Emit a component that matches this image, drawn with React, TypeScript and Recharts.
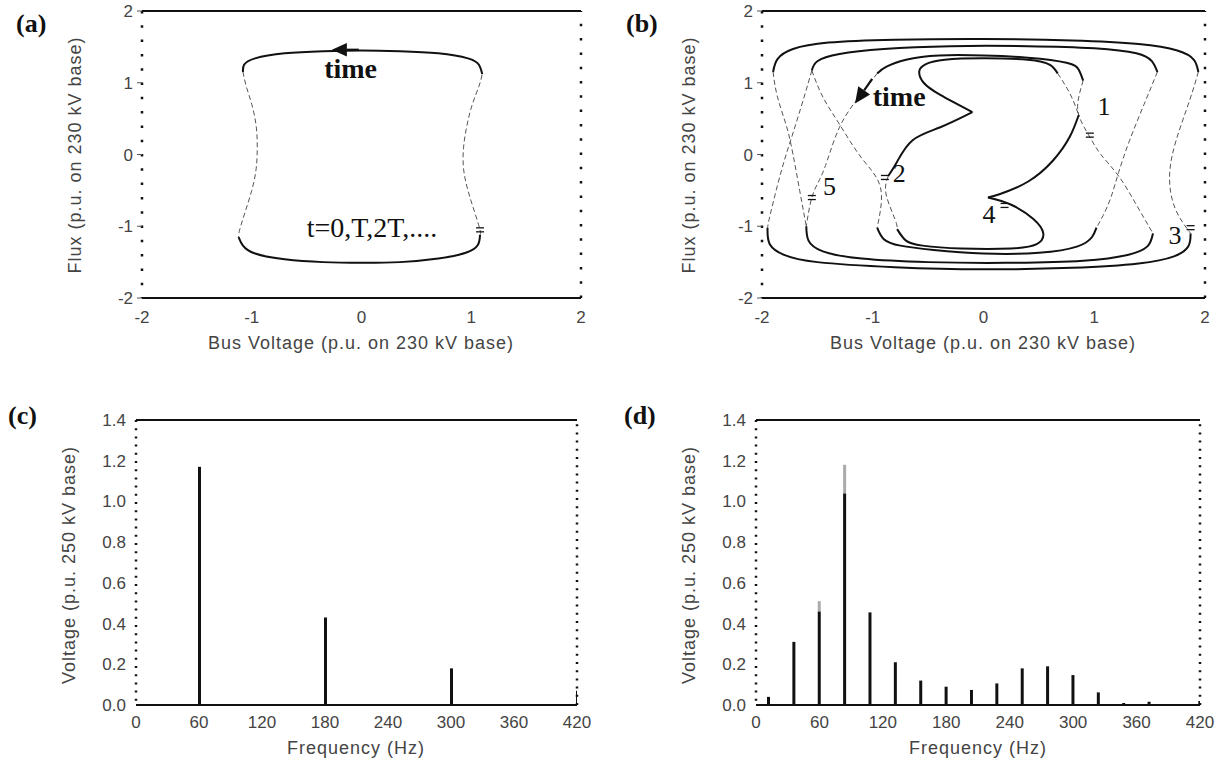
import React from 'react';
import {
  LineChart,
  Line,
  BarChart,
  Bar,
  XAxis,
  YAxis,
  ReferenceLine,
  ReferenceDot,
} from 'recharts';

type Pt = [number, number];

// ---------- (a) steady state, one loop per period ----------
const aTopArc: Pt[] = [[1.1, 1.12], [1.07, 1.25], [0.97, 1.34], [0.7, 1.41], [0.35, 1.44], [0, 1.45], [-0.35, 1.44], [-0.7, 1.41], [-0.97, 1.34], [-1.07, 1.25], [-1.08, 1.15]];
const aLeftSide: Pt[] = [[-1.08, 1.15], [-1.05, 0.95], [-1.0, 0.7], [-0.96, 0.4], [-0.95, 0.1], [-0.96, -0.2], [-1.0, -0.5], [-1.06, -0.8], [-1.11, -1.05], [-1.12, -1.15]];
const aBottomArc: Pt[] = [[-1.12, -1.15], [-1.08, -1.27], [-0.97, -1.38], [-0.7, -1.46], [-0.35, -1.5], [0, -1.51], [0.35, -1.5], [0.7, -1.45], [0.95, -1.37], [1.06, -1.26], [1.08, -1.12]];
const aRightSide: Pt[] = [[1.08, -1.12], [1.08, -1.05], [1.03, -0.8], [0.97, -0.5], [0.93, -0.2], [0.93, 0.1], [0.96, 0.4], [1.01, 0.7], [1.07, 0.95], [1.1, 1.12]];

// ---------- (b) period-5T orbit ----------
const bTop1: Pt[] = [[1.94, 1.15], [1.9, 1.32], [1.75, 1.45], [1.4, 1.54], [0.8, 1.59], [0, 1.61], [-0.8, 1.6], [-1.4, 1.56], [-1.72, 1.47], [-1.86, 1.33], [-1.9, 1.15]];
const bTop2: Pt[] = [[1.57, 1.15], [1.52, 1.3], [1.38, 1.41], [1.0, 1.48], [0.4, 1.51], [-0.3, 1.51], [-0.9, 1.47], [-1.3, 1.4], [-1.5, 1.3], [-1.55, 1.17]];
const bTop3: Pt[] = [[0.9, 1.03], [0.86, 1.18], [0.75, 1.28], [0.4, 1.35], [0, 1.38], [-0.4, 1.38], [-0.7, 1.32], [-0.88, 1.22], [-0.96, 1.13]];
const bTop4: Pt[] = [[0.67, 1.13], [0.6, 1.25], [0.4, 1.32], [0, 1.34], [-0.35, 1.32], [-0.52, 1.26], [-0.58, 1.16], [-0.54, 1.0], [-0.39, 0.83], [-0.1, 0.59]];
const bBot1: Pt[] = [[-1.95, -1.02], [-1.93, -1.25], [-1.8, -1.4], [-1.5, -1.5], [-0.8, -1.57], [0, -1.6], [0.8, -1.58], [1.4, -1.52], [1.72, -1.42], [1.85, -1.28], [1.87, -1.1]];
const bBot2: Pt[] = [[-1.6, -1.0], [-1.58, -1.2], [-1.45, -1.35], [-1.1, -1.45], [-0.5, -1.5], [0.2, -1.51], [0.9, -1.48], [1.3, -1.4], [1.48, -1.28], [1.53, -1.1]];
const bBot3: Pt[] = [[-0.96, -1.02], [-0.9, -1.18], [-0.75, -1.27], [-0.45, -1.33], [0, -1.38], [0.5, -1.37], [0.85, -1.28], [0.98, -1.15], [1.02, -1.02]];
const bBot4: Pt[] = [[-0.78, -1.04], [-0.7, -1.2], [-0.55, -1.27], [-0.2, -1.31], [0.25, -1.31], [0.48, -1.25], [0.54, -1.1], [0.45, -0.9], [0.25, -0.7], [0.04, -0.6]];
const bCuspUpper: Pt[] = [[-0.1, 0.59], [-0.39, 0.38], [-0.64, 0.2], [-0.78, -0.1], [-0.86, -0.3]];
const bCuspUpperTail: Pt[] = [[-0.86, -0.3], [-0.88, -0.55], [-0.8, -0.9], [-0.78, -1.04]];
const bCuspLowerHead: Pt[] = [[0.67, 1.13], [0.78, 0.85], [0.86, 0.55]];
const bCuspLower: Pt[] = [[0.86, 0.55], [0.78, 0.25], [0.63, -0.08], [0.4, -0.38], [0.15, -0.55], [0.04, -0.6]];
const bLeft1: Pt[] = [[-1.9, 1.15], [-1.86, 0.8], [-1.78, 0.4], [-1.72, 0.0], [-1.66, -0.5], [-1.6, -1.0]];
const bLeft2: Pt[] = [[-1.55, 1.17], [-1.62, 0.8], [-1.72, 0.3], [-1.82, -0.2], [-1.92, -0.8], [-1.95, -1.02]];
const bLeft3: Pt[] = [[-0.96, 1.13], [-1.05, 0.95], [-1.16, 0.73], [-1.3, 0.38], [-1.41, -0.08], [-1.48, -0.35], [-1.55, -0.6], [-1.6, -1.0]];
const bLeft4: Pt[] = [[-1.55, 1.17], [-1.45, 0.8], [-1.3, 0.42], [-1.1, -0.05], [-0.93, -0.46], [-0.96, -1.02]];
const bRight1: Pt[] = [[1.94, 1.15], [1.86, 0.75], [1.74, 0.2], [1.68, -0.3], [1.73, -0.75], [1.87, -1.1]];
const bRight2: Pt[] = [[1.57, 1.15], [1.45, 0.7], [1.32, 0.2], [1.22, -0.25], [1.15, -0.6], [1.08, -0.85], [1.02, -1.02]];
const bRight3: Pt[] = [[0.9, 1.03], [0.86, 0.8], [0.86, 0.55], [0.95, 0.27], [1.06, 0.0], [1.22, -0.3], [1.38, -0.7], [1.53, -1.1]];

// sample points t = kT in (b) and their labels
const bMarks: Pt[] = [[0.96, 0.27], [-0.89, -0.32], [1.87, -1.02], [0.19, -0.71], [-1.55, -0.6]];
const bMarkLabels = ['1', '2', '3', '4', '5'];
const bLabelPos: Pt[] = [[1.03, 0.55], [-0.82, -0.39], [1.67, -1.25], [-0.01, -0.95], [-1.45, -0.57]];

const phaseTicks = [-2, -1, 0, 1, 2];

// ---------- (c) / (d) spectra ----------
const freqC = [60, 180, 300, 420];
const voltC = [1.17, 0.43, 0.18, 0.07];

const freqD = [12, 36, 60, 84, 108, 132, 156, 180, 204, 228, 252, 276, 300, 324, 348, 372, 420];
const voltD = [0.04, 0.31, 0.46, 1.04, 0.455, 0.21, 0.12, 0.09, 0.074, 0.106, 0.18, 0.19, 0.147, 0.062, 0.01, 0.016, 0.02];
const traceD = [0, 0, 0.05, 0.14, 0, 0, 0, 0, 0, 0, 0, 0, 0, 0, 0, 0, 0];

const freqTicks = [0, 60, 120, 180, 240, 300, 360, 420];
const voltTicks = [0, 0.2, 0.4, 0.6, 0.8, 1.0, 1.2, 1.4];

const INK = '#111';
const GREY = '#444';
const SANS = "'Liberation Sans', Arial, sans-serif";
const SERIF = "'Liberation Serif', 'Times New Roman', serif";

const toXY = (p: Pt[]) => p.map(([x, y]) => ({ x, y }));

const textShape = (s: string, size: number, weight: string = 'normal') => (p: any) => (
  <text x={p.cx} y={p.cy} fontSize={size} fontWeight={weight} fontFamily={SERIF} fill={INK}>
    {s}
  </text>
);

const markShape = (p: any) => (
  <g stroke={INK} strokeWidth={1.3}>
    <line x1={p.cx - 4} x2={p.cx + 4} y1={p.cy - 2} y2={p.cy - 2} />
    <line x1={p.cx - 4} x2={p.cx + 4} y1={p.cy + 2} y2={p.cy + 2} />
  </g>
);

const arrowShape = (dx: number, dy: number, head: number, shaft: number) => (p: any) => {
  const len = Math.hypot(dx, dy);
  const ux = dx / len;
  const uy = dy / len;
  const bx = p.cx - ux * head;
  const by = p.cy - uy * head;
  const px = -uy * head * 0.45;
  const py = ux * head * 0.45;
  return (
    <g>
      <line x1={bx} y1={by} x2={p.cx - ux * shaft} y2={p.cy - uy * shaft} stroke={INK} strokeWidth={2.2} />
      <path d={`M${p.cx},${p.cy} L${bx + px},${by + py} L${bx - px},${by - py} Z`} fill={INK} />
    </g>
  );
};

const tickStyle = { fill: GREY, fontSize: 17, fontFamily: SANS };

function PhasePanel({ left, width, padL, padR, solid, faint, children }: any) {
  return (
    <div style={{ position: 'absolute', left, top: 0 }}>
      <LineChart width={width} height={380} margin={{ top: 11, right: padR, bottom: 0, left: padL - 36 }}>
        <XAxis
          type="number"
          dataKey="x"
          domain={[-2, 2]}
          ticks={phaseTicks}
          height={82}
          allowDataOverflow
          axisLine={{ stroke: INK, strokeWidth: 2 }}
          tickLine={false}
          tickMargin={7}
          tick={tickStyle}
        />
        <YAxis
          type="number"
          domain={[-2, 2]}
          ticks={phaseTicks}
          width={36}
          allowDataOverflow
          axisLine={{ stroke: INK, strokeWidth: 2.5, strokeDasharray: '2.5 11.8' }}
          tickLine={{ stroke: '#555' }}
          tickSize={5}
          tickMargin={4}
          tick={tickStyle}
        />
        <ReferenceLine y={2} stroke={INK} strokeWidth={2} />
        <ReferenceLine x={2} stroke={INK} strokeWidth={2.5} strokeDasharray="2.5 11.8" />
        {faint.map((s: Pt[], i: number) => (
          <Line
            key={'f' + i}
            data={toXY(s)}
            dataKey="y"
            type="natural"
            stroke="#555"
            strokeWidth={1}
            strokeDasharray="5 3"
            dot={false}
            isAnimationActive={false}
          />
        ))}
        {solid.map((s: Pt[], i: number) => (
          <Line
            key={'s' + i}
            data={toXY(s)}
            dataKey="y"
            type="natural"
            stroke={INK}
            strokeWidth={2}
            dot={false}
            isAnimationActive={false}
          />
        ))}
        {children}
      </LineChart>
    </div>
  );
}

function SpectrumPanel({ left, width, padL, padR, data, withTrace }: any) {
  return (
    <div style={{ position: 'absolute', left, top: 380 }}>
      <BarChart width={width} height={385} data={data} margin={{ top: 40, right: padR, bottom: 0, left: padL - 44 }}>
        <XAxis
          type="number"
          dataKey="f"
          domain={[0, 420]}
          ticks={freqTicks}
          height={60}
          allowDataOverflow
          axisLine={{ stroke: INK, strokeWidth: 2 }}
          tickLine={false}
          tickMargin={5}
          tick={tickStyle}
        />
        <YAxis
          type="number"
          domain={[0, 1.4]}
          ticks={voltTicks}
          width={44}
          allowDataOverflow
          axisLine={{ stroke: INK, strokeWidth: 2.5, strokeDasharray: '2 6.2' }}
          tickLine={false}
          tickMargin={4}
          tick={tickStyle}
          tickFormatter={(v: number) => v.toFixed(1)}
        />
        <ReferenceLine y={1.4} stroke={INK} strokeWidth={2} />
        <ReferenceLine x={420} stroke={INK} strokeWidth={2.5} strokeDasharray="2 6.2" />
        <Bar dataKey="v" stackId="s" barSize={3} fill={INK} isAnimationActive={false} />
        {withTrace && <Bar dataKey="t" stackId="s" barSize={1} fill="#aaa" isAnimationActive={false} />}
      </BarChart>
    </div>
  );
}

const abs = (left: number, top: number, extra: React.CSSProperties = {}): React.CSSProperties => ({
  position: 'absolute',
  left,
  top,
  whiteSpace: 'nowrap',
  ...extra,
});

const titleStyle: React.CSSProperties = { fontFamily: SANS, fontSize: 18, color: GREY, letterSpacing: 1 };
const panelLabel: React.CSSProperties = { fontFamily: SERIF, fontSize: 26, fontWeight: 'bold', color: INK, lineHeight: 1 };

function HTitle({ x, y, text }: any) {
  return <div style={abs(x, y, { ...titleStyle, transform: 'translate(-50%, -50%)' })}>{text}</div>;
}
function VTitle({ x, y, text }: any) {
  return <div style={abs(x, y, { ...titleStyle, transform: 'translate(-50%, -50%) rotate(-90deg)' })}>{text}</div>;
}

export default function App() {
  const dataC = freqC.map((f, i) => ({ f, v: voltC[i] }));
  const dataD = freqD.map((f, i) => ({ f, v: voltD[i], t: traceD[i] }));

  return (
    <div style={{ position: 'absolute', left: 0, top: 0, width: 1225, height: 765, background: '#fff', overflow: 'hidden' }}>
      <PhasePanel
        left={0}
        width={612}
        padL={142}
        padR={31}
        solid={[aTopArc, aBottomArc]}
        faint={[aLeftSide, aRightSide]}
      >
        <ReferenceDot x={-0.27} y={1.46} r={0} ifOverflow="visible" shape={arrowShape(-1, 0, 15, 27)} />
        <ReferenceDot x={-0.34} y={1.07} r={0} ifOverflow="visible" shape={textShape('time', 28, 'bold')} />
        <ReferenceDot x={-0.5} y={-1.15} r={0} ifOverflow="visible" shape={textShape('t=0,T,2T,....', 28)} />
        <ReferenceDot x={1.08} y={-1.05} r={0} ifOverflow="visible" shape={markShape} />
      </PhasePanel>

      <PhasePanel
        left={612}
        width={613}
        padL={150}
        padR={20}
        solid={[bTop1, bTop2, bTop3, bTop4, bBot1, bBot2, bBot3, bBot4, bCuspUpper, bCuspLower]}
        faint={[bLeft1, bLeft2, bLeft3, bLeft4, bRight1, bRight2, bRight3, bCuspUpperTail, bCuspLowerHead]}
      >
        <ReferenceDot x={-1.16} y={0.71} r={0} ifOverflow="visible" shape={arrowShape(-0.57, 0.82, 16, 30)} />
        <ReferenceDot x={-1.0} y={0.67} r={0} ifOverflow="visible" shape={textShape('time', 28, 'bold')} />
        {bMarks.map(([x, y], i) => (
          <ReferenceDot key={'m' + i} x={x} y={y} r={0} ifOverflow="visible" shape={markShape} />
        ))}
        {bLabelPos.map(([x, y], i) => (
          <ReferenceDot key={'l' + i} x={x} y={y} r={0} ifOverflow="visible" shape={textShape(bMarkLabels[i], 26)} />
        ))}
      </PhasePanel>

      <SpectrumPanel left={0} width={612} padL={136} padR={35} data={dataC} />
      <SpectrumPanel left={612} width={613} padL={144} padR={25} data={dataD} withTrace />

      <div style={abs(16, 11, panelLabel)}>(a)</div>
      <div style={abs(626, 11, panelLabel)}>(b)</div>
      <div style={abs(8, 403, panelLabel)}>(c)</div>
      <div style={abs(624, 403, panelLabel)}>(d)</div>

      <VTitle x={75} y={155} text="Flux (p.u. on 230 kV base)" />
      <HTitle x={361} y={343} text="Bus Voltage (p.u. on 230 kV base)" />
      <VTitle x={689} y={155} text="Flux (p.u. on 230 kV base)" />
      <HTitle x={983} y={343} text="Bus Voltage (p.u. on 230 kV base)" />

      <VTitle x={69} y={565} text="Voltage (p.u. 250 kV base)" />
      <HTitle x={356} y={748} text="Frequency (Hz)" />
      <VTitle x={689} y={565} text="Voltage (p.u. 250 kV base)" />
      <HTitle x={978} y={748} text="Frequency (Hz)" />
    </div>
  );
}
